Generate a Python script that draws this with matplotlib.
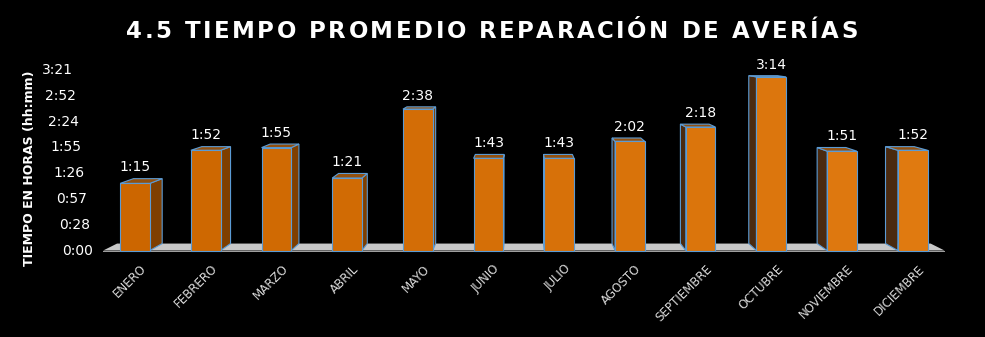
import matplotlib
matplotlib.use('Agg')
import matplotlib.pyplot as plt
import matplotlib.transforms as mtransforms
from matplotlib.patches import Polygon
from matplotlib.font_manager import FontProperties
import numpy as np

# data (minutes)
months = ['ENERO', 'FEBRERO', 'MARZO', 'ABRIL', 'MAYO', 'JUNIO', 'JULIO',
          'AGOSTO', 'SEPTIEMBRE', 'OCTUBRE', 'NOVIEMBRE', 'DICIEMBRE']
repair_minutes = [75, 112, 115, 81, 158, 103, 103, 122, 138, 194, 111, 112]
tick_step = 28.8  # 0.02 days, like the Excel axis
n_ticks = 8

title = '4.5 TIEMPO PROMEDIO REPARACIÓN DE AVERÍAS'
y_label = 'TIEMPO EN HORAS (hh:mm)'

# fake 3D settings
VP_X, VP_Y = 5.5, 235.0  # vanishing point in data coords
DEPTH = 0.033
HALF_W = 0.21

EDGE = '#5B9BD5'


def hhmm(minutes):
    return f"{int(minutes // 60)}:{int(minutes % 60):02d}"


def to_back(x, y):
    return x + (VP_X - x) * DEPTH, y + (VP_Y - y) * DEPTH


def draw_floor(ax, x0, x1, thick):
    top = [(x0, 0), (x1, 0), to_back(x1, 0), to_back(x0, 0)]
    ax.add_patch(Polygon(top, closed=True, facecolor='#C8C8C8', edgecolor='none', zorder=1))
    front = [(x0, -thick), (x1, -thick), (x1, 0), (x0, 0)]
    ax.add_patch(Polygon(front, closed=True, facecolor='#9E9E9E', edgecolor='none', zorder=1))


def draw_bar(ax, i, value, front_color):
    xl, xr = i - HALF_W, i + HALF_W
    top = [(xl, value), (xr, value), to_back(xr, value), to_back(xl, value)]
    if i < VP_X:
        xs = xr
        side_color = '#7F3F00'
    else:
        xs = xl
        side_color = '#4A2A10'
    side = [(xs, 0), (xs, value), to_back(xs, value), to_back(xs, 0)]
    ax.add_patch(Polygon(side, closed=True, facecolor=side_color, edgecolor=EDGE,
                         linewidth=0.8, zorder=2))
    ax.add_patch(Polygon(top, closed=True, facecolor='#93500E', edgecolor=EDGE,
                         linewidth=0.8, zorder=2))
    ax.bar(i, value, width=2 * HALF_W, color=front_color, edgecolor=EDGE,
           linewidth=0.8, zorder=3)


def spaced_title(fig, text, x_center_px, y_px, size, spacing_px):
    """Draw text char by char with extra letter spacing (figure pixels)."""
    renderer = fig.canvas.get_renderer()
    prop = FontProperties(family='DejaVu Sans', weight='bold', size=size)
    widths = [renderer.get_text_width_height_descent(ch, prop, ismath=False)[0]
              for ch in text]
    total = sum(widths) + spacing_px * (len(text) - 1)
    x = x_center_px - total / 2
    W, H = fig.bbox.width, fig.bbox.height
    for ch, w in zip(text, widths):
        fig.text(x / W, 1 - y_px / H, ch, fontproperties=prop, color='white',
                 ha='left', va='center')
        x += w + spacing_px


def main():
    fig = plt.figure(figsize=(9.85, 3.37), dpi=100, facecolor='black')
    ax = fig.add_axes([0.0868, 0.2487, 0.9044, 0.632])
    ax.set_facecolor('black')
    ax.set_xlim(-0.7, 11.9)
    ax.set_ylim(-3, 235)

    draw_floor(ax, -0.45, 11.45, 2.2)

    front_colors = [tuple(c) for c in np.linspace(
        matplotlib.colors.to_rgb('#CC6600'), matplotlib.colors.to_rgb('#E07A10'), len(months))]
    for i, v in enumerate(repair_minutes):
        draw_bar(ax, i, v, front_colors[i])
        bx, by = to_back(i, v)
        ax.annotate(hhmm(v), (i, by), xytext=(0, 3), textcoords='offset points',
                    ha='center', va='bottom', color='white', fontsize=10)

    # y tick labels along the slanted wall edge
    trans = mtransforms.blended_transform_factory(fig.transFigure, ax.transData)
    for k in range(n_ticks):
        m = k * tick_step
        x_px = 93 - m * (20 / 201.6)
        ax.text(x_px / 985, m, hhmm(m), transform=trans, ha='right', va='center',
                color='white', fontsize=10)

    ax.set_yticks([])
    ax.set_xticks(range(len(months)))
    ax.set_xticklabels(months, rotation=45, ha='right', rotation_mode='anchor',
                       color='#D9D9D9', fontsize=8.6)
    ax.tick_params(axis='x', length=0, pad=6.5)
    offset = mtransforms.ScaledTranslation(5 / 100, 0, fig.dpi_scale_trans)
    for lbl in ax.get_xticklabels():
        lbl.set_transform(lbl.get_transform() + offset)
    for s in ax.spines.values():
        s.set_visible(False)

    spaced_title(fig, title, 492, 31, 16.5, 2.5)
    fig.text(30 / 985, 1 - 168 / 337, y_label, rotation=90, ha='center', va='center',
             color='white', fontsize=9, fontweight='bold')

    fig.savefig('out.png', dpi=100, facecolor='black')
    plt.close(fig)


if __name__ == '__main__':
    main()
